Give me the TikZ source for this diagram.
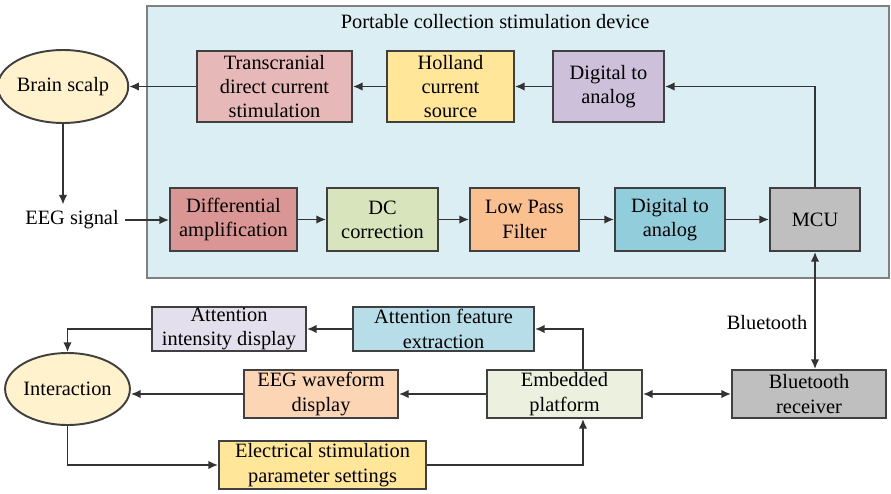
\documentclass[tikz,border=0pt]{standalone}
\usepackage{fontspec}
\setmainfont{LiberationSerif}[Extension=.ttf,UprightFont=*-Regular,BoldFont=*-Bold]
\usetikzlibrary{arrows.meta,calc,shapes.geometric,positioning}
\definecolor{devicebg}{HTML}{DAEEF3}
\definecolor{tdcsred}{HTML}{E6B9B8}
\definecolor{hollandyel}{HTML}{FFE699}
\definecolor{dacpurple}{HTML}{CCC0DA}
\definecolor{diffred}{HTML}{DA9694}
\definecolor{dcgreen}{HTML}{D8E4BC}
\definecolor{lpforange}{HTML}{FAC090}
\definecolor{dacblue}{HTML}{92CDDC}
\definecolor{mcugray}{HTML}{BFBFBF}
\definecolor{ovalyel}{HTML}{FFF2CC}
\definecolor{intenslilac}{HTML}{E4DFEC}
\definecolor{featblue}{HTML}{B7DEE8}
\definecolor{wavepeach}{HTML}{FCD5B4}
\definecolor{embgreen}{HTML}{EBF1DE}
\tikzset{
  block/.style={draw=black!75, line width=1.1pt, align=center, inner sep=0pt, font=\fontsize{11.6}{13.8}\selectfont},
  oval/.style={ellipse, draw=black!75, line width=1.1pt, fill=ovalyel, inner sep=0pt, font=\fontsize{11.6}{13.8}\selectfont},
  devicebox/.style={draw=black!50, line width=1.2pt, fill=devicebg},
  link/.style={-{Latex[length=5.5pt,width=4.8pt]}, line width=0.9pt, black!80},
  twoway/.style={{Latex[length=5.5pt,width=4.8pt]}-{Latex[length=5.5pt,width=4.8pt]}, line width=0.9pt, black!80},
  plain/.style={font=\fontsize{11.6}{13.8}\selectfont}
}
\begin{document}
\begin{tikzpicture}[x=0.02cm,y=-0.02cm]
  \useasboundingbox (0,0) rectangle (891,493);
  % device frame
  \draw[devicebox] (147,6) rectangle (889,278);
  \node[plain] (title) at (495,22) {Portable collection stimulation device};

  % stimulation path
  \node[oval, minimum width=2.2cm, minimum height=1.46cm] (scalp) at (63,86.5) {Brain scalp};
  \node[block, fill=tdcsred, minimum width=3.1cm, minimum height=1.42cm] (tdcs) at (274.5,86.5) {Transcranial\\direct current\\stimulation};
  \node[block, fill=hollandyel, minimum width=2.54cm, minimum height=1.42cm] (holland) at (450.5,86.5) {Holland\\current\\source};
  \node[block, fill=dacpurple, minimum width=2.22cm, minimum height=1.42cm] (dacout) at (608.5,86.5) {Digital to\\analog};

  % acquisition path
  \node[plain] (eeg) at (72,220) {EEG signal};
  \node[block, fill=diffred, minimum width=2.54cm, minimum height=1.26cm] (diff) at (233.5,219.5) {Differential\\amplification};
  \node[block, fill=dcgreen, minimum width=2.22cm, minimum height=1.26cm] (dc) at (382.5,219.5) {DC\\correction};
  \node[block, fill=lpforange, minimum width=2.18cm, minimum height=1.26cm] (lpf) at (524.5,219.5) {Low Pass\\Filter};
  \node[block, fill=dacblue, minimum width=2.2cm, minimum height=1.26cm] (dacin) at (670,219.5) {Digital to\\analog};
  \node[block, fill=mcugray, minimum width=1.8cm, minimum height=1.26cm] (mcu) at (815,219.5) {MCU};

  % host side
  \node[block, fill=intenslilac, minimum width=3.08cm, minimum height=0.88cm] (intens) at (229,329) {Attention\\intensity display};
  \node[block, fill=featblue, minimum width=3.62cm, minimum height=0.88cm] (feat) at (443.5,329) {Attention feature\\extraction};
  \node[oval, minimum width=2.18cm, minimum height=1.44cm] (inter) at (67.5,389) {Interaction};
  \node[block, fill=wavepeach, minimum width=3.08cm, minimum height=0.96cm] (wave) at (321,394) {EEG waveform\\display};
  \node[block, fill=embgreen, minimum width=3.1cm, minimum height=0.96cm] (emb) at (564.5,394) {Embedded\\platform};
  \node[block, fill=mcugray, minimum width=3.08cm, minimum height=0.96cm] (btrx) at (809,394) {Bluetooth\\receiver};
  \node[block, fill=hollandyel, minimum width=4.14cm, minimum height=0.96cm] (elec) at (322.5,465) {Electrical stimulation\\parameter settings};
  \node[plain] (btlabel) at (767,323) {Bluetooth};

  % connectors
  \draw[link] (dacout) -- (holland);
  \draw[link] (holland) -- (tdcs);
  \draw[link] (tdcs) -- (scalp);
  \draw[link] (mcu.north) |- (dacout.east);
  \draw[link] (scalp.south) -- (eeg.north -| scalp.south);
  \draw[link] (eeg.east) -- (eeg.east -| diff.west);
  \draw[link] (diff) -- (dc);
  \draw[link] (dc) -- (lpf);
  \draw[link] (lpf) -- (dacin);
  \draw[link] (dacin) -- (mcu);
  \draw[twoway] (mcu.south) -- (mcu.south |- btrx.north);
  \draw[twoway] (emb) -- (btrx);
  \draw[link] ($(emb.north)+(18.5,0)$) |- (feat.east);
  \draw[link] (feat) -- (intens);
  \draw[link] (intens.west) -| (inter.north);
  \draw[link] (emb) -- (wave);
  \draw[link] (wave.west) -- (wave.west -| inter.east);
  \draw[link] (inter.south) |- (elec.west);
  \draw[link] (elec.east) -| ($(emb.south)+(18.5,0)$);
\end{tikzpicture}
\end{document}
